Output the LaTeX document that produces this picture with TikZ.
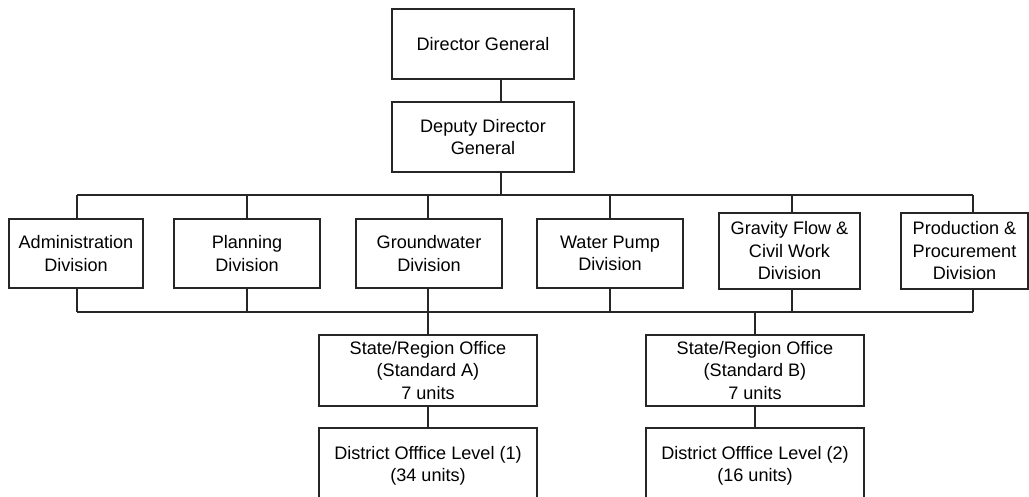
\documentclass[tikz,border=0pt]{standalone}
\usepackage{fontspec}
\setmainfont{Liberation Sans}

\begin{document}
\begin{tikzpicture}[x=0.02cm,y=-0.02cm]
   \clip (0,0) rectangle (1029,497);
   \fontsize{10.3}{12.8}\selectfont
   \tikzstyle{main}=[draw=black!85, line width=0.6pt, align=center, inner sep=0pt]
   \tikzstyle{link}=[draw=black!85, line width=0.6pt]
   \node[main, minimum width=182*0.02cm, minimum height=70*0.02cm] (dg) at (483,44) {Director General};
   \node[main, minimum width=182*0.02cm, minimum height=70*0.02cm] (ddg) at (483,137) {Deputy Director\\General};
   \coordinate (hub) at (501,195);
   \draw[link] (dg.south -| hub) -- (ddg.north -| hub);
   \draw[link] (ddg.south -| hub) -- (hub);
   % divisions
   \foreach \i/\x/\y/\tx/\w/\h/\txt in {1/76/253.5/77/134/69/{Administration\\Division},
         2/247/253.5/247/146/69/{Planning\\Division},
         3/429/253.5/428/146/69/{Groundwater\\Division},
         4/610/253.5/610/146/69/{Water Pump\\Division},
         5/789.5/251/792/141/76/{Gravity Flow \&\\Civil Work\\Division},
         6/964.5/251/973/127/76/{Production \&\\Procurement\\Division}} {
       \node[main, minimum width=\w*0.02cm, minimum height=\h*0.02cm] (d\i) at (\x,\y) {\txt};
       \coordinate (top\i) at (\tx,195);
       \coordinate (bot\i) at (\tx,312);
       \draw[link] (top\i) -- (top\i |- d\i.north);
       \draw[link] (d\i.south -| bot\i) -- (bot\i);
   }
   \draw[link] (top1) -- (top6);
   \draw[link] (bot1) -- (bot6);
   % offices
   \node[main, minimum width=218*0.02cm, minimum height=71*0.02cm] (sa) at (428,370.5) {State/Region Office\\(Standard A)\\7 units};
   \node[main, minimum width=218*0.02cm, minimum height=71*0.02cm] (sb) at (755,370.5) {State/Region Office\\(Standard B)\\7 units};
   \coordinate (botB) at (755,312);
   \draw[link] (bot3) -- (sa);
   \draw[link] (botB) -- (sb);
   \node[main, minimum width=218*0.02cm, minimum height=76*0.02cm] (da) at (428,466) {District Offfice Level (1)\\(34 units)};
   \node[main, minimum width=218*0.02cm, minimum height=76*0.02cm] (db) at (755,466) {District Offfice Level (2)\\(16 units)};
   \draw[link] (sa) -- (da);
   \draw[link] (sb) -- (db);
\end{tikzpicture}
\end{document}
